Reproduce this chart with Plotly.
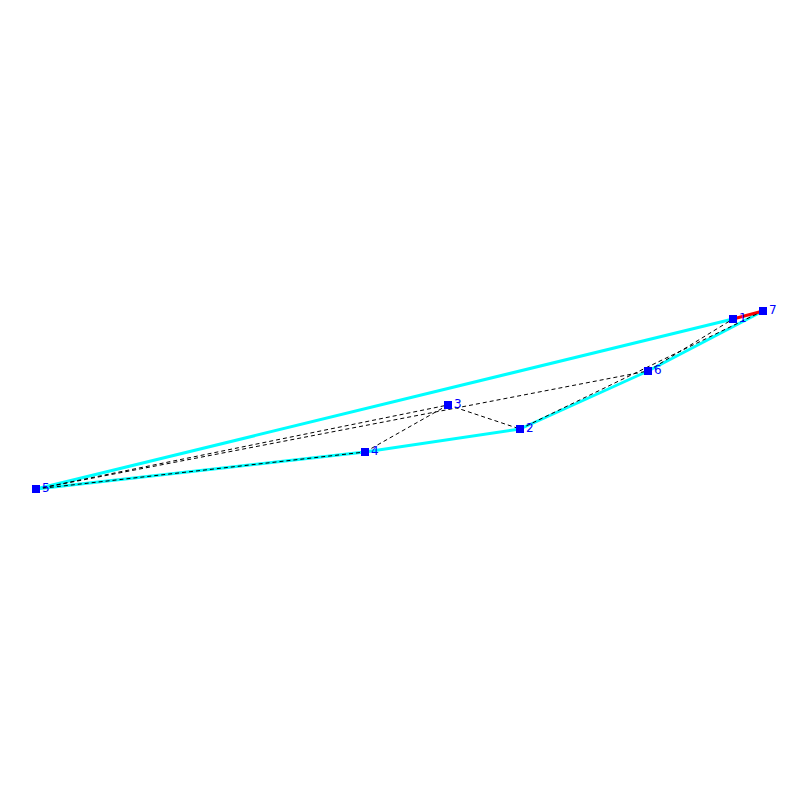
import plotly.graph_objects as go

node_ids = ["1", "2", "3", "4", "5", "6", "7"]
node_x = [733, 520, 448, 365, 36, 648, 763]
node_y = [319, 429, 405, 452, 489, 371, 311]
cyan_edges = [("5", "1"), ("5", "4"), ("4", "2"), ("2", "6"), ("6", "7")]
red_edges = [("1", "7")]
dashed_edges = [("5", "3"), ("5", "4"), ("3", "4"), ("3", "2"), ("5", "6"), ("6", "1"), ("2", "7")]

pos = {n: (x, y) for n, x, y in zip(node_ids, node_x, node_y)}

def seg(edges):
    xs, ys = [], []
    for a, b in edges:
        xs += [pos[a][0], pos[b][0], None]
        ys += [pos[a][1], pos[b][1], None]
    return xs, ys

fig = go.Figure()
x, y = seg(cyan_edges)
fig.add_trace(go.Scatter(x=x, y=y, mode="lines", line=dict(color="cyan", width=3), hoverinfo="skip"))
x, y = seg(red_edges)
fig.add_trace(go.Scatter(x=x, y=y, mode="lines", line=dict(color="red", width=3), hoverinfo="skip"))
x, y = seg(dashed_edges)
fig.add_trace(go.Scatter(x=x, y=y, mode="lines", line=dict(color="black", width=1, dash="4px,3px"), hoverinfo="skip"))
fig.add_trace(go.Scatter(x=node_x, y=node_y, mode="markers+text", text=node_ids,
                         textposition="middle right",
                         textfont=dict(color="blue", size=12, family="DejaVu Sans"),
                         marker=dict(color="blue", symbol="square", size=8)))
fig.update_layout(width=800, height=800, margin=dict(l=0, r=0, t=0, b=0),
                  plot_bgcolor="white", paper_bgcolor="white", showlegend=False,
                  xaxis=dict(range=[8, 808], visible=False),
                  yaxis=dict(range=[808, 8], visible=False))
fig.write_html("out.html")
